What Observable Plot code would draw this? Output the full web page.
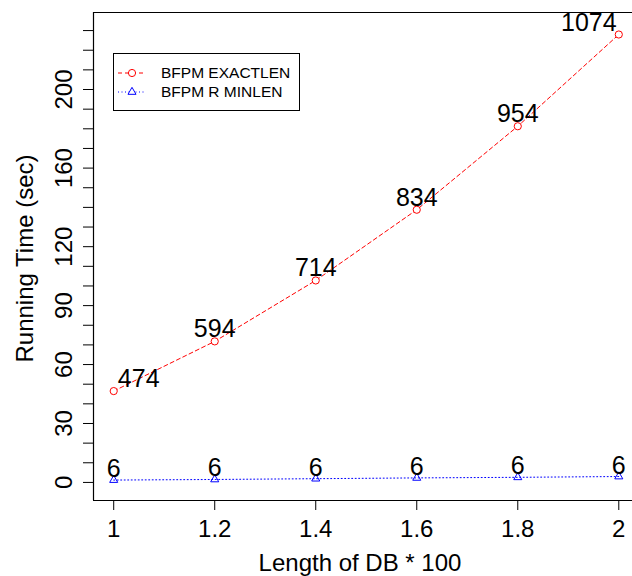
<!DOCTYPE html>
<html>
<head>
<meta charset="utf-8">
<script src="https://cdn.jsdelivr.net/npm/d3@7"></script>
<script src="https://cdn.jsdelivr.net/npm/@observablehq/plot@0.6"></script>
<style>
  html, body { margin: 0; padding: 0; background: white; }
  #wrap { position: relative; width: 632px; height: 576px; overflow: hidden; background: white; }
  #legend { position: absolute; left: 113px; top: 53px; width: 185px; height: 56px; border: 1px solid black; background: white;
            font-family: "Liberation Sans", Arial, sans-serif; font-size: 15.5px; color: black; }
  #legend .row { position: absolute; left: 0; height: 18px; width: 185px; }
  #legend svg { position: absolute; left: 0; top: 0; }
  #legend span { position: absolute; left: 47px; top: 0; line-height: 18px; white-space: nowrap; }
</style>
</head>
<body>
<div id="wrap"></div>
<script>
// ---- data ----
const xValues = [1, 1.2, 1.4, 1.6, 1.8, 2];
const exactTimes = [46.5, 71.8, 102.8, 138.8, 181.3, 228];
const exactLabels = ["474", "594", "714", "834", "954", "1074"];
const minTimes = [1.2, 1.5, 1.9, 2.3, 2.6, 3.0];
const minLabels = ["6", "6", "6", "6", "6", "6"];
const seriesNames = ["BFPM EXACTLEN", "BFPM R MINLEN"];
const seriesColors = ["#ff0000", "#0000ff"];
const xTicks = [1, 1.2, 1.4, 1.6, 1.8, 2];
const xTickLabels = ["1", "1.2", "1.4", "1.6", "1.8", "2"];
const yTicks = [0, 10, 20, 30, 40, 50, 60, 70, 80, 90, 100, 110, 120, 130, 140, 150, 160, 170, 180, 190, 200, 210, 220, 230];
const yTickLabelValues = [0, 30, 60, 90, 120, 160, 200];
const xTitle = "Length of DB * 100";
const yTitle = "Running Time (sec)";

const exact = xValues.map((x, i) => ({x, y: exactTimes[i], label: exactLabels[i]}));
const minl = xValues.map((x, i) => ({x, y: minTimes[i], label: minLabels[i]}));
const last = xValues.length - 1;

const font = "'Liberation Sans', Arial, Helvetica, sans-serif";

const chart = Plot.plot({
  width: 632,
  height: 576,
  marginLeft: 93,
  marginTop: 12,
  marginBottom: 76,
  marginRight: 0,
  style: {fontFamily: font, background: "white", color: "black"},
  x: {domain: [0.96, 2.04], range: [93, 638.5]},
  y: {domain: [-9.2, 239.2], range: [500, 12]},
  marks: [
    // box (right side falls outside the picture)
    Plot.ruleX([0.96], {stroke: "black", strokeWidth: 1.2}),
    Plot.ruleY([-9.2, 239.2], {stroke: "black", strokeWidth: 1.2}),
    // axes
    Plot.axisX({ticks: xTicks, tickSize: 10, tickPadding: 9, fontSize: 24, stroke: "black",
      tickFormat: d => xTickLabels[xTicks.indexOf(d)], label: null}),
    Plot.axisY({ticks: yTicks, tickSize: 10, tickFormat: () => "", stroke: "black", label: null}),
    Plot.text(yTickLabelValues, {y: d => d, frameAnchor: "left", dx: -29, rotate: -90,
      text: d => String(d), fontSize: 24, textAnchor: "middle", lineAnchor: "middle", fill: "black"}),
    Plot.text([yTitle], {frameAnchor: "left", dx: -68, dy: 2, rotate: -90, fontSize: 24,
      textAnchor: "middle", lineAnchor: "middle", fill: "black"}),
    Plot.text([xTitle], {frameAnchor: "bottom", dx: -3, dy: 63, fontSize: 24,
      textAnchor: "middle", lineAnchor: "middle", fill: "black"}),
    // series
    Plot.line(exact, {x: "x", y: "y", stroke: seriesColors[0], strokeWidth: 1, strokeDasharray: "4,3"}),
    Plot.dot(exact, {x: "x", y: "y", r: 3.6, stroke: seriesColors[0], fill: "white", strokeWidth: 1}),
    Plot.line(minl, {x: "x", y: "y", stroke: seriesColors[1], strokeWidth: 1, strokeDasharray: "1,2.5"}),
    Plot.dot(minl, {x: "x", y: "y", r: 3, symbol: "triangle", stroke: seriesColors[1], fill: "none", strokeWidth: 1}),
    // value labels
    Plot.text(exact, {filter: (d, i) => i > 0 && i < last, x: "x", y: "y", text: "label", dy: -12,
      fontSize: 25, lineAnchor: "middle", fill: "black"}),
    Plot.text(exact, {filter: (d, i) => i === 0, x: "x", y: "y", text: "label", dx: 25, dy: -12,
      fontSize: 25, lineAnchor: "middle", fill: "black"}),
    Plot.text(exact, {filter: (d, i) => i === last, x: "x", y: "y", text: "label", dx: -30, dy: -12,
      fontSize: 25, lineAnchor: "middle", fill: "black"}),
    Plot.text(minl, {x: "x", y: "y", text: "label", dy: -11, fontSize: 25, lineAnchor: "middle", fill: "black"})
  ]
});

const wrap = document.getElementById("wrap");
wrap.appendChild(chart);

// legend
const legend = document.createElement("div");
legend.id = "legend";
const rowTops = [10, 29];
seriesNames.forEach((name, i) => {
  const row = document.createElement("div");
  row.className = "row";
  row.style.top = rowTops[i] + "px";
  const svg = d3.create("svg").attr("width", 40).attr("height", 18);
  svg.append("line").attr("x1", 4).attr("x2", 32).attr("y1", 9).attr("y2", 9)
    .attr("stroke", seriesColors[i]).attr("stroke-width", 1)
    .attr("stroke-dasharray", i === 0 ? "4,3" : "1,2.5");
  if (i === 0) {
    svg.append("circle").attr("cx", 18).attr("cy", 9).attr("r", 3.6)
      .attr("fill", "white").attr("stroke", seriesColors[i]);
  } else {
    svg.append("path").attr("transform", "translate(18,9)")
      .attr("d", d3.symbol(d3.symbolTriangle, 28)())
      .attr("fill", "white").attr("stroke", seriesColors[i]);
  }
  row.appendChild(svg.node());
  const span = document.createElement("span");
  span.textContent = name;
  row.appendChild(span);
  legend.appendChild(row);
});
wrap.appendChild(legend);
</script>
</body>
</html>
